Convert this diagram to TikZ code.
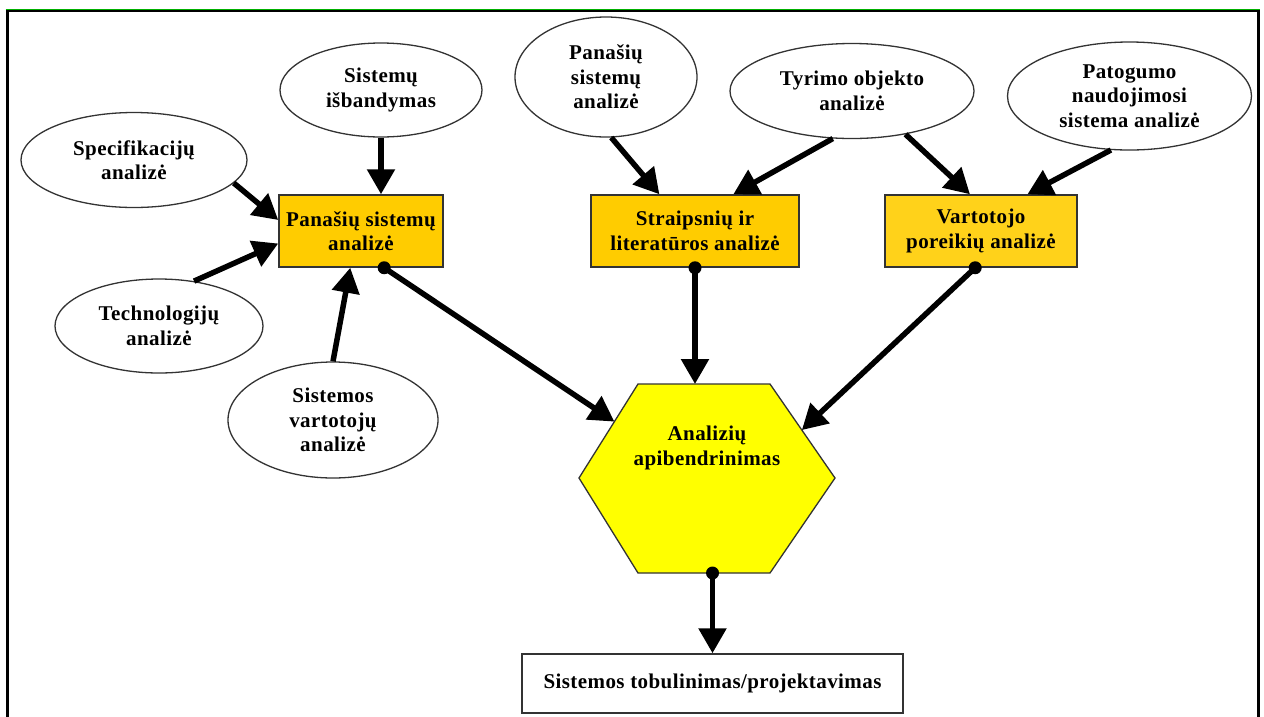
\documentclass[tikz,border=0pt]{standalone}
\usepackage{fontspec}
\setmainfont{Liberation Serif}[LetterSpace=2]
\usetikzlibrary{arrows.meta,calc,shapes.geometric}

\definecolor{boxorange}{HTML}{FFCC00}
\definecolor{boxorangelight}{HTML}{FFD21A}
\definecolor{hexyellow}{HTML}{FFFF00}
\definecolor{edgegray}{HTML}{333333}
\definecolor{framegreen}{HTML}{00B000}

\tikzset{
  lbl/.style={font=\fontsize{21}{24.5}\selectfont\bfseries, align=center, text=black},
  oval/.style={lbl, ellipse, draw=edgegray, line width=1.3pt, fill=white, inner sep=0pt},
  stagebox/.style={lbl, rectangle, draw=edgegray, line width=1.5pt, inner sep=0pt},
  flow/.style={line width=5.5pt, draw=black, -{Triangle[width=27pt,length=25pt]}},
  dot/.style={fill=black},
}

\begin{document}
\begin{tikzpicture}[x=1pt, y=-1pt]
  % canvas
  \fill[white] (0,0) rectangle (1264,716);
  \useasboundingbox (0,0) rectangle (1264,716);

  % frame (open at the bottom)
  \draw[line width=3pt, line cap=butt] (7,722) -- (7,10.8) -- (1258.5,10.8) -- (1258.5,722);
  \draw[framegreen, line width=1pt] (5.5,9) -- (1260,9);

  % source analyses
  \node (isb)  [oval, minimum width=202pt, minimum height=94pt]  at (381,90)   {Sistemų\\išbandymas};
  \node (spec) [oval, minimum width=226pt, minimum height=95pt]  at (134,160)  {Specifikacijų\\analizė};
  \node (tech) [oval, minimum width=208pt, minimum height=94pt]  at (159,326)  {Technologijų\\analizė};
  \node (sv)   [oval, minimum width=210pt, minimum height=116pt] at (333,420)  {Sistemos\\vartotojų\\analizė};
  \node (pe)   [oval, minimum width=182pt, minimum height=120pt] at (606,77)   {Panašių\\sistemų\\analizė};
  \node (tyr)  [oval, minimum width=244pt, minimum height=95pt]  at (852,91)   {Tyrimo objekto\\analizė};
  \node (pat)  [oval, minimum width=244pt, minimum height=108pt] at (1129.5,96) {Patogumo\\naudojimosi\\sistema analizė};

  % intermediate analyses
  \node (pan) [stagebox, fill=boxorange, minimum width=164pt, minimum height=72pt] at (361,231) {Panašių sistemų\\analizė};
  \node (str) [stagebox, fill=boxorange, minimum width=208pt, minimum height=72pt] at (695,231) {Straipsnių ir\\literatūros analizė};
  \node (var) [stagebox, fill=boxorangelight, minimum width=192pt, minimum height=72pt] at (981,231) {Vartotojo\\poreikių analizė};

  % synthesis hexagon
  \coordinate (hW)  at (579,478);
  \coordinate (hNW) at (638,384);
  \coordinate (hNE) at (770,384);
  \coordinate (hE)  at (835,478);
  \coordinate (hSE) at (770,573);
  \coordinate (hSW) at (638,573);
  \filldraw[fill=hexyellow, draw=edgegray, line width=1.3pt]
    (hW) -- (hNW) -- (hNE) -- (hE) -- (hSE) -- (hSW) -- cycle;
  \node (hex) [lbl] at (707,448) {Analizių\\apibendrinimas};
  \coordinate (hexL) at ($(hW)!0.6!(hNW)$);
  \coordinate (hexR) at ($(hE)!0.51!(hNE)$);

  % final stage
  \node (bot) [stagebox, fill=white, minimum width=381pt, minimum height=59pt] at (712.5,683.5)
    {\raisebox{5.5pt}{Sistemos tobulinimas/projektavimas}};

  % inputs to the intermediate analyses
  \draw[flow] (isb.south) -- (isb.south |- pan.north);
  \draw[flow] (spec.-13.5) -- ($(pan.north west)!0.35!(pan.south west)$);
  \draw[flow] (tech.52) -- ($(pan.north west)!0.67!(pan.south west)$);
  \draw[flow] (sv.north) -- ($(pan.south west)!0.435!(pan.south east)$);
  \draw[flow] (pe.-85) -- ($(str.north west)!0.33!(str.north east)$);
  \draw[flow] (tyr.-112) -- ($(str.north west)!0.683!(str.north east)$);
  \draw[flow] (tyr.-39) -- ($(var.north west)!0.443!(var.north east)$);
  \draw[flow] (pat.-109) -- ($(var.north west)!0.74!(var.north east)$);

  % intermediate analyses to the synthesis
  \coordinate (panOut) at ($(pan.south west)!0.64!(pan.south east)$);
  \coordinate (varOut) at ($(var.south west)!0.47!(var.south east)$);
  \coordinate (hexOut) at (bot.north |- hSW);
  \draw[flow] (panOut) -- (hexL);
  \draw[flow] (str.south) -- (str.south |- hNW);
  \draw[flow] (varOut) -- (hexR);
  \draw[flow] (hexOut) -- (bot.north);
  \fill[dot] (panOut) circle (6.5);
  \fill[dot] (str.south) circle (6.5);
  \fill[dot] (varOut) circle (6.5);
  \fill[dot] (hexOut) circle (6.5);
\end{tikzpicture}
\end{document}
